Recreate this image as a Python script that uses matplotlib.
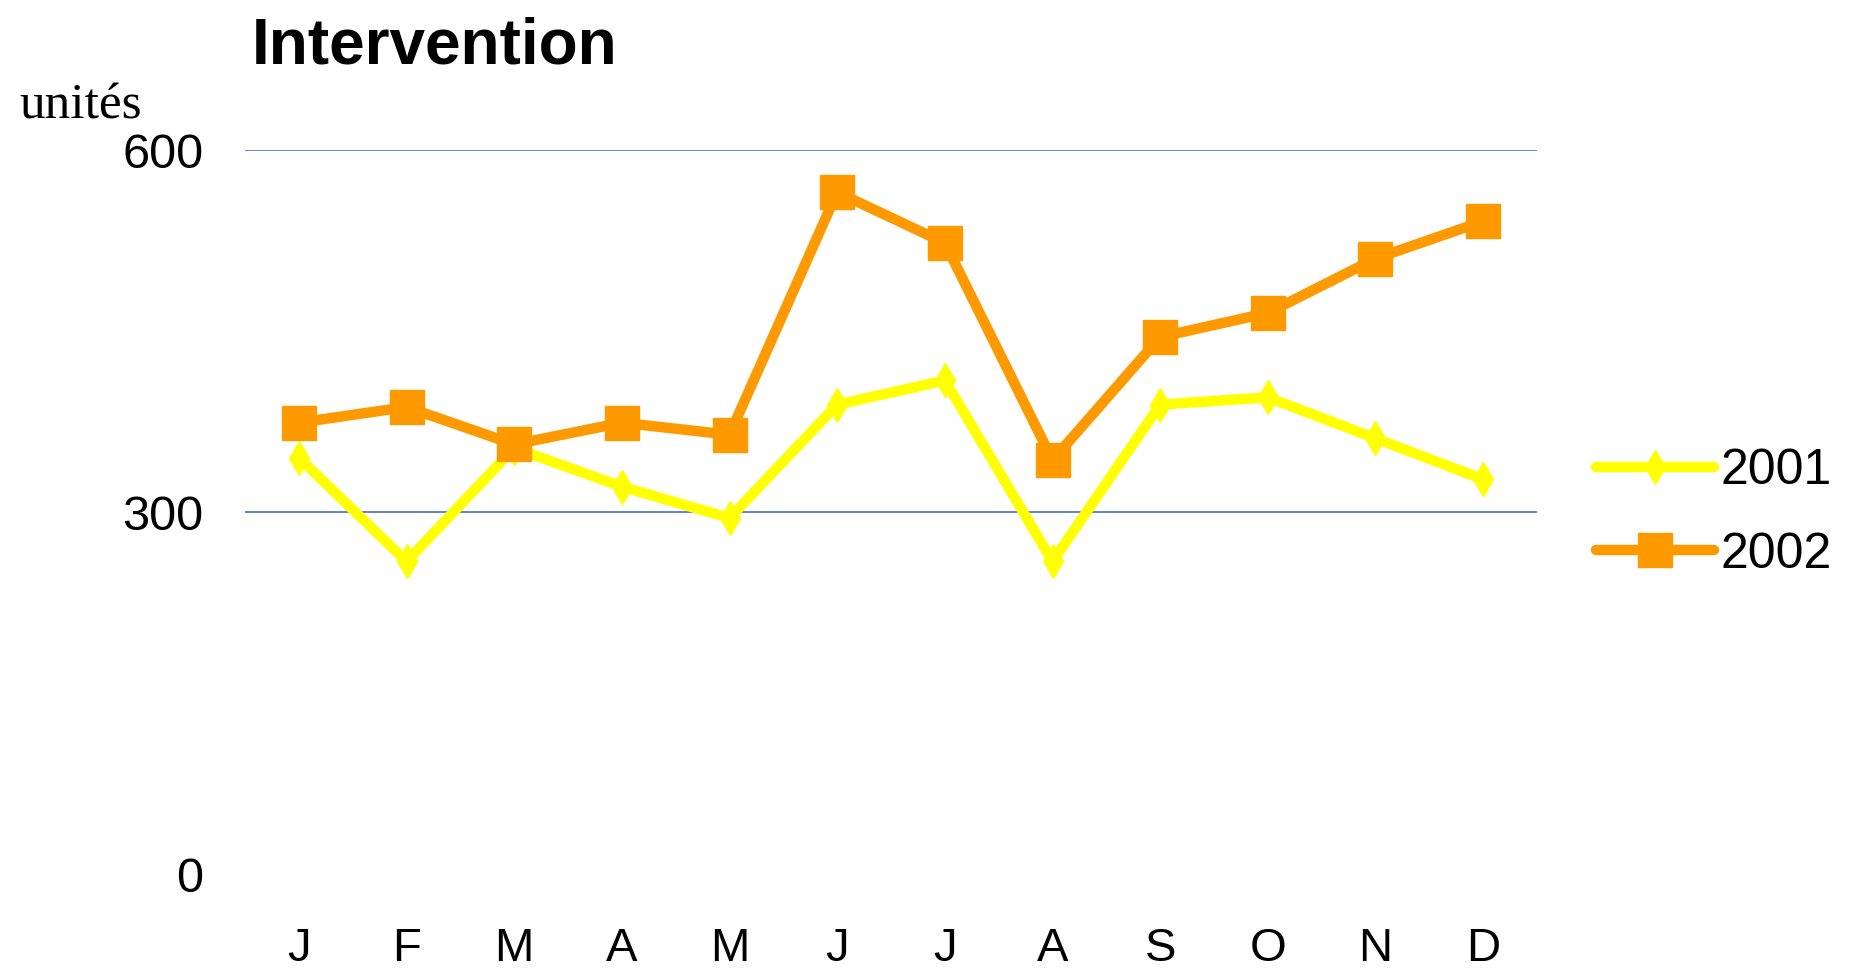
import matplotlib.pyplot as plt

months = ['J', 'F', 'M', 'A', 'M', 'J', 'J', 'A', 'S', 'O', 'N', 'D']
values_2001 = [345, 259, 353, 321, 295, 389, 409, 259, 389, 395, 361, 327]
values_2002 = [374, 387, 356, 374, 364, 565, 523, 343, 445, 465, 510, 541]
y_ticks = [0, 300, 600]

plt.rcParams['font.family'] = ['Liberation Sans', 'DejaVu Sans']

fig = plt.figure(figsize=(18.54, 9.77), dpi=100)
ax = fig.add_axes([245 / 1854, 1 - 874 / 977, (1537 - 245) / 1854, (874 - 150) / 977])

x = range(len(months))

# 2002 drawn over 2001, as in the original
ax.plot(x, values_2001, color='#ffff00', linewidth=7.5, marker='d', markersize=17,
        label='2001', solid_capstyle='round', zorder=2)
ax.plot(x, values_2002, color='#ff9900', linewidth=7.5, marker='s', markersize=24,
        label='2002', solid_capstyle='round', zorder=3)

ax.set_xlim(-0.5, len(months) - 0.5)
ax.set_ylim(0, 600)
ax.set_yticks(y_ticks)
ax.set_yticklabels([str(v) for v in y_ticks], fontsize=35)
ax.set_xticks(list(x))
ax.set_xticklabels(months, fontsize=34)
ax.tick_params(axis='y', length=0, pad=30)
ax.tick_params(axis='x', length=0, pad=38)

for v in [300, 600]:
    ax.axhline(v, color='#2f66b8', linewidth=1.1, zorder=1)

for spine in ax.spines.values():
    spine.set_visible(False)

fig.text(252 / 1854, 1 - 47 / 977, 'Intervention', fontsize=46, fontweight='bold',
         ha='left', va='center')
fig.text(19 / 1854, 1 - 106 / 977, 'unités', fontsize=37, family='Liberation Serif',
         ha='left', va='center')

fig.legend(loc='center left', bbox_to_anchor=(1596 / 1854, 1 - 513 / 977),
           frameon=False, fontsize=36, handlelength=2.35, handletextpad=0.14,
           labelspacing=0.75, borderpad=0, borderaxespad=0)

fig.savefig('out.png', dpi=100)
